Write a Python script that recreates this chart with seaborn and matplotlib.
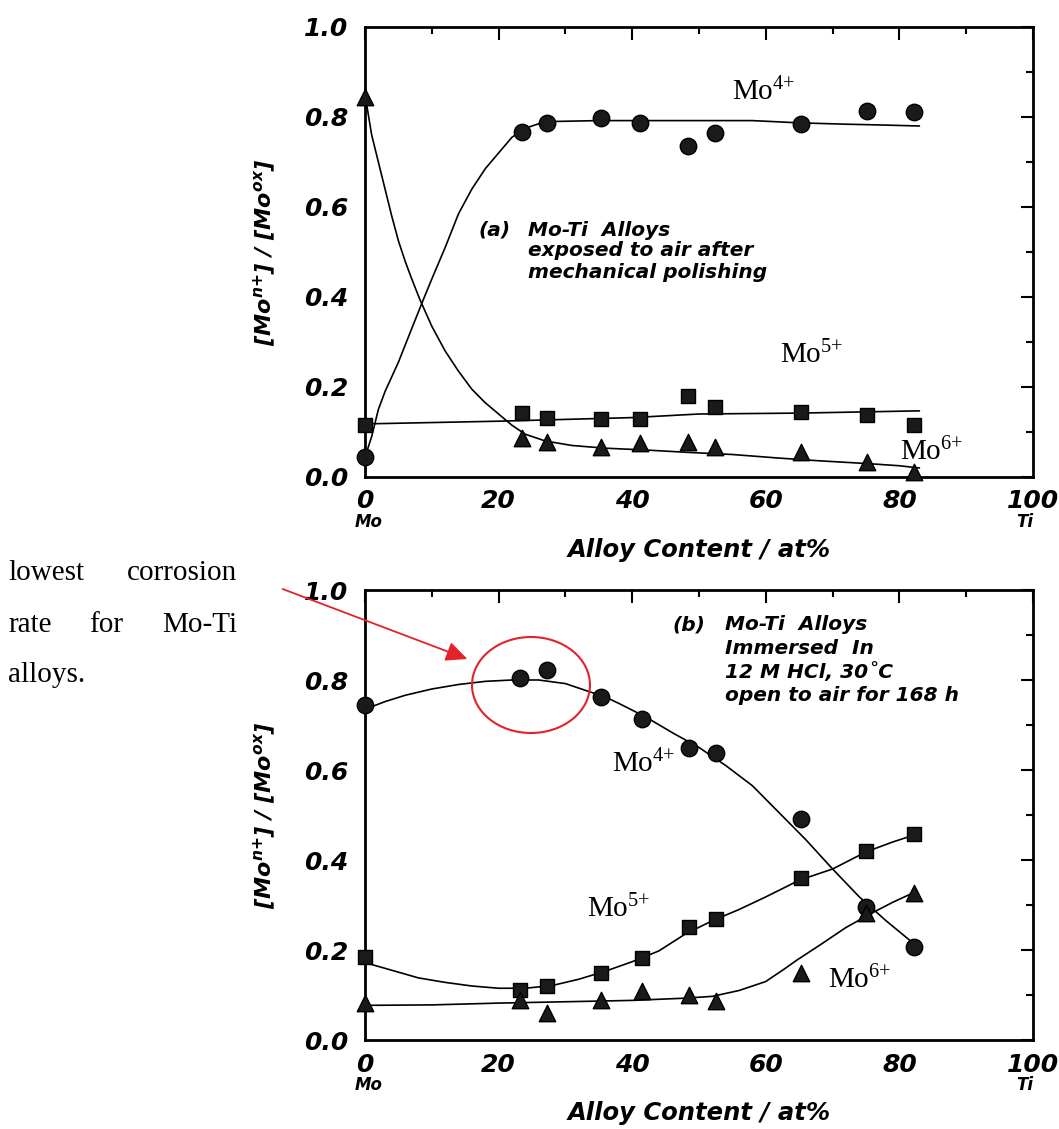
import numpy as np
import pandas as pd
import matplotlib
matplotlib.use("Agg")
import matplotlib.pyplot as plt
import seaborn as sns
from matplotlib.patches import Ellipse, FancyArrowPatch
from matplotlib.ticker import MultipleLocator, FormatStrFormatter

# ---------------- data ----------------
# Panel (a): exposed to air after mechanical polishing
a_x = [0, 23.5, 27.3, 35.4, 41.2, 48.4, 52.4, 65.2, 75.1, 82.2]
a_mo4 = [0.044, 0.767, 0.787, 0.798, 0.787, 0.736, 0.764, 0.784, 0.813, 0.811]
a_mo5 = [0.116, 0.142, 0.131, 0.129, 0.129, 0.180, 0.156, 0.144, 0.138, 0.116]
a_mo6 = [0.845, 0.087, 0.078, 0.067, 0.076, 0.078, 0.067, 0.056, 0.033, 0.011]

# fitted curves of panel (a)
a_fit4_x = [0, 1, 2, 3, 5, 7, 8.7, 10, 12, 14, 16, 18, 20, 22, 24, 26, 28, 35, 42, 50, 58, 65, 72, 78, 83]
a_fit4_y = [0.044, 0.09, 0.15, 0.19, 0.255, 0.33, 0.393, 0.44, 0.51, 0.585, 0.64, 0.685, 0.72, 0.755,
            0.775, 0.785, 0.79, 0.792, 0.792, 0.792, 0.792, 0.787, 0.784, 0.782, 0.78]
a_fit5_x = [0, 20, 40, 50, 65, 83]
a_fit5_y = [0.118, 0.124, 0.132, 0.140, 0.142, 0.147]
a_fit6_x = [0, 1, 2, 3, 4, 5, 6, 7, 8.2, 10, 12, 14, 16, 18, 20, 22, 24, 27, 31, 36, 42, 48, 55, 62, 68, 75, 80, 83]
a_fit6_y = [0.85, 0.76, 0.70, 0.64, 0.58, 0.525, 0.48, 0.44, 0.395, 0.335, 0.28, 0.235, 0.195, 0.165,
            0.14, 0.115, 0.095, 0.08, 0.07, 0.064, 0.06, 0.055, 0.05, 0.042, 0.036, 0.03, 0.025, 0.02]

# Panel (b): immersed in 12 M HCl
b_x = [0, 23.2, 27.3, 35.3, 41.5, 48.5, 52.5, 65.3, 75.0, 82.2]
b_mo4 = [0.744, 0.804, 0.822, 0.762, 0.713, 0.650, 0.638, 0.491, 0.296, 0.207]
b_mo5 = [0.184, 0.111, 0.120, 0.149, 0.182, 0.251, 0.269, 0.360, 0.420, 0.458]
b_mo6 = [0.082, 0.089, 0.060, 0.089, 0.109, 0.100, 0.087, 0.149, 0.282, 0.327]

b_fit4_x = [0, 3, 6, 10, 14, 18, 22, 26, 30, 34, 36, 38, 42, 46, 50, 54, 58, 62, 66, 70, 74, 78, 82.5]
b_fit4_y = [0.735, 0.752, 0.766, 0.78, 0.79, 0.797, 0.80, 0.80, 0.792, 0.772, 0.762, 0.748, 0.718,
            0.683, 0.65, 0.61, 0.565, 0.505, 0.445, 0.38, 0.318, 0.265, 0.21]
b_fit5_x = [0, 4, 8, 12, 16, 20, 24, 28, 32, 36, 40, 44, 48, 52, 56, 60, 65, 70, 75, 79, 82.5]
b_fit5_y = [0.172, 0.155, 0.138, 0.128, 0.12, 0.115, 0.115, 0.121, 0.135, 0.153, 0.174, 0.198,
            0.236, 0.265, 0.29, 0.318, 0.355, 0.38, 0.418, 0.44, 0.457]
b_fit6_x = [0, 10, 20, 30, 40, 48, 52, 56, 60, 62.6, 64.7, 68, 72, 76, 79, 82.5]
b_fit6_y = [0.077, 0.078, 0.082, 0.085, 0.088, 0.093, 0.097, 0.11, 0.13, 0.156, 0.178, 0.21,
            0.25, 0.283, 0.306, 0.33]

x_ticks = [0, 20, 40, 60, 80, 100]
y_ticks = [0.0, 0.2, 0.4, 0.6, 0.8, 1.0]
x_label = "Alloy Content / at%"
y_label = "[Mo$^{n{+}}$] / [Mo$^{ox}$]"
species = ["Mo$^{4{+}}$", "Mo$^{5{+}}$", "Mo$^{6{+}}$"]
panel_a_text = ["(a)", "Mo-Ti  Alloys", "exposed to air after", "mechanical polishing"]
panel_b_text = ["(b)", "Mo-Ti  Alloys", "Immersed  In", "12 M HCl, 30\u02daC", "open to air for 168 h"]

# ---------------- style ----------------
sns.set_style("white")
plt.rcParams["font.family"] = ["DejaVu Sans"]
plt.rcParams["font.weight"] = "bold"
plt.rcParams["font.style"] = "italic"
plt.rcParams["mathtext.default"] = "regular"
plt.rcParams["text.color"] = "black"
plt.rcParams["axes.labelcolor"] = "black"
plt.rcParams["axes.labelweight"] = "bold"

W, H = 1059, 1129
fig = plt.figure(figsize=(W / 100, H / 100), dpi=100)
fig.patch.set_facecolor("white")

def px_axes(left, top, right, bottom):
    return fig.add_axes([left / W, 1 - bottom / H, (right - left) / W, (bottom - top) / H])

ax_a = px_axes(365, 27, 1033, 477)
ax_b = px_axes(365, 590, 1033, 1040)

marker_style = dict(color="#1a1a1a", edgecolor="black", linewidth=1.0, zorder=5, legend=False, clip_on=False)
line_style = dict(color="black", linewidth=1.2, sort=False, estimator=None, legend=False, zorder=3)

def draw(ax, xs, s4, s5, s6, fits):
    for fx, fy in fits:
        sns.lineplot(x=fx, y=fy, ax=ax, **line_style)
    sns.scatterplot(x=xs, y=s4, ax=ax, marker="o", s=140, **marker_style)
    sns.scatterplot(x=xs, y=s5, ax=ax, marker="s", s=115, **marker_style)
    sns.scatterplot(x=xs, y=s6, ax=ax, marker="^", s=140, **marker_style)

draw(ax_a, a_x, a_mo4, a_mo5, a_mo6,
     [(a_fit4_x, a_fit4_y), (a_fit5_x, a_fit5_y), (a_fit6_x, a_fit6_y)])
draw(ax_b, b_x, b_mo4, b_mo5, b_mo6,
     [(b_fit4_x, b_fit4_y), (b_fit5_x, b_fit5_y), (b_fit6_x, b_fit6_y)])

for ax in (ax_a, ax_b):
    ax.set_xlim(0, 100)
    ax.set_ylim(0, 1.0)
    ax.set_xticks(x_ticks)
    ax.set_yticks(y_ticks)
    ax.xaxis.set_minor_locator(MultipleLocator(10))
    ax.yaxis.set_minor_locator(MultipleLocator(0.1))
    ax.yaxis.set_major_formatter(FormatStrFormatter("%.1f"))
    ax.tick_params(which="both", direction="in", top=True, right=True, width=1.5,
                   colors="black", labelcolor="black")
    ax.tick_params(which="major", length=9, labelsize=18)
    ax.tick_params(axis="x", which="major", pad=9)
    ax.tick_params(axis="y", which="major", pad=12)
    ax.tick_params(which="minor", length=5)
    for sp in ax.spines.values():
        sp.set_linewidth(2.0)
        sp.set_color("black")
    ax.set_xlabel(x_label, fontsize=17.5, fontweight="bold", color="black")
    ax.xaxis.set_label_coords(0.5, -0.135)
    ax.set_ylabel(y_label, fontsize=16, fontweight="bold", color="black")
    ax.yaxis.set_label_coords(-0.13, 0.5)
    ax.text(0.5, -0.1, "Mo", transform=ax.get_xaxis_transform(), ha="center", va="center",
            fontsize=12, color="black")
    ax.text(98.8, -0.1, "Ti", transform=ax.get_xaxis_transform(), ha="center", va="center",
            fontsize=12, color="black")
    ax.grid(False)

# panel notes
note_fs = 14.5
for i, line in enumerate(panel_a_text):
    xp = 478 if i == 0 else 528
    yp = 230 if i == 0 else 230 + 21 * (i - 1)
    ax_a.text((xp - 365) / 668, (477 - yp) / 450, line, transform=ax_a.transAxes,
              ha="left", va="center", fontsize=note_fs, color="black")
for i, line in enumerate(panel_b_text):
    xp = 672 if i == 0 else 725
    yp = 625 if i == 0 else 625 + 23.5 * (i - 1)
    ax_b.text((xp - 365) / 668, (1040 - yp) / 450, line, transform=ax_b.transAxes,
              ha="left", va="center", fontsize=note_fs, color="black")

serif = dict(family=["Liberation Serif", "DejaVu Serif"], weight="normal", style="normal",
             fontsize=21, ha="left", va="baseline", color="black")

def fig_text(x, y, s, **kw):
    fig.text(x / W, 1 - y / H, s, **kw)

# species labels (pixel positions in figure)
fig_text(732, 100, species[0], **serif)
fig_text(780, 363, species[1], **serif)
fig_text(900, 460, species[2], **serif)
fig_text(612, 772, species[0], **serif)
fig_text(587, 917, species[1], **serif)
fig_text(828, 988, species[2], **serif)

# side note
note = dict(family=["Liberation Serif", "DejaVu Serif"], weight="normal", style="normal",
            fontsize=21, va="baseline", color="black")
fig_text(8, 580, "lowest", ha="left", **note)
fig_text(237, 580, "corrosion", ha="right", **note)
fig_text(8, 632, "rate", ha="left", **note)
fig_text(106, 632, "for", ha="center", **note)
fig_text(237, 632, "Mo-Ti", ha="right", **note)
fig_text(8, 682, "alloys.", ha="left", **note)

# red highlight
red = "#e3222a"
ell = Ellipse(((531 - 365) / 668 * 100, (1040 - 685) / 450), width=118 / 668 * 100, height=96 / 450,
              fill=False, edgecolor=red, linewidth=1.5, zorder=6, clip_on=False)
ax_b.add_patch(ell)
fig.add_artist(FancyArrowPatch(
    (280 / W, 1 - 588 / H), (470 / W, 1 - 660 / H), transform=fig.transFigure,
    arrowstyle="-|>,head_length=13,head_width=6", color=red, linewidth=1.3, mutation_scale=1))

fig.savefig("out.png", dpi=100, facecolor="white")
